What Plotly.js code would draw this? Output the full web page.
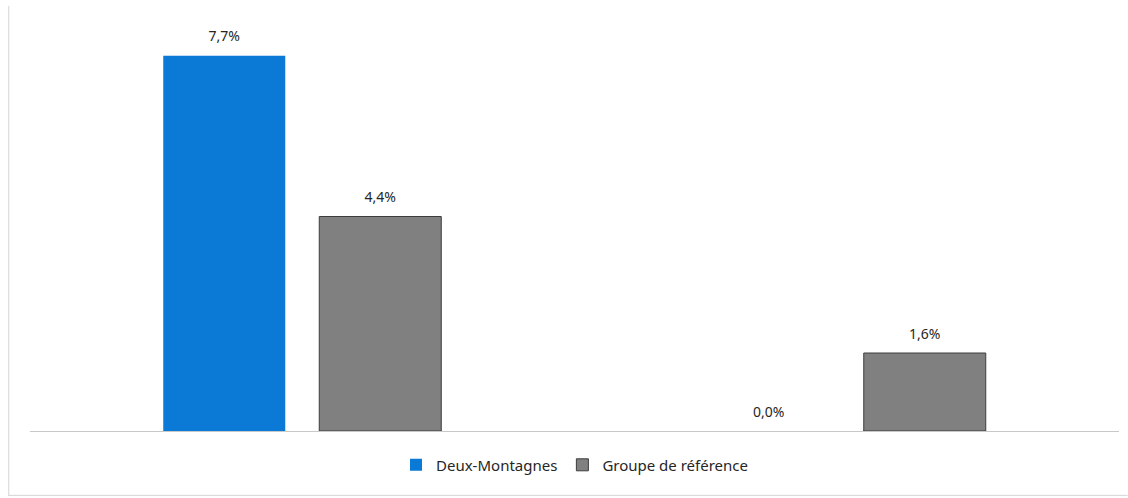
<!DOCTYPE html>
<html>
<head>
<meta charset="utf-8">
<script src="https://cdn.plot.ly/plotly-3.0.1.min.js"></script>
<style>html,body{margin:0;padding:0;background:#fff;}#chart{width:1128px;height:498px;}</style>
</head>
<body>
<div id="chart"></div>
<script>
var categories = ["Catégorie 1", "Catégorie 2"];
var seriesNames = ["Deux-Montagnes", "Groupe de référence"];
var deuxMontagnes = [7.7, 0.0];
var groupeReference = [4.4, 1.6];

var labelFont = {family: "Noto Sans, Open Sans, sans-serif", size: 14, color: "#262626"};

function labelTrace(values, group) {
  return {
    type: "scatter", mode: "markers+text", x: categories, y: values,
    offsetgroup: group, alignmentgroup: "labels",
    marker: {size: 16, opacity: 0, color: "#ffffff"},
    texttemplate: "%{y:.1f}%", textposition: "top center", textfont: labelFont,
    cliponaxis: false, showlegend: false, hoverinfo: "none"
  };
}

var traces = [
  {
    type: "bar", name: seriesNames[0], x: categories, y: deuxMontagnes,
    offsetgroup: "a",
    marker: {color: "#0b79d6", line: {color: "#0b79d6", width: 0}},
    textposition: "none", hoverinfo: "none"
  },
  {
    type: "bar", name: seriesNames[1], x: categories, y: groupeReference,
    offsetgroup: "b",
    marker: {color: "#808080", line: {color: "#3c3c3c", width: 1}},
    textposition: "none", hoverinfo: "none"
  },
  labelTrace(deuxMontagnes, "a"),
  labelTrace(groupeReference, "b")
];

var layout = {
  width: 1128, height: 498,
  margin: {l: 30, r: 9, t: 41, b: 67},
  paper_bgcolor: "#ffffff", plot_bgcolor: "#ffffff",
  separators: ", ",
  barmode: "group", bargap: 0.427, bargroupgap: 0.218,
  scattermode: "group", scattergap: 0.427,
  showlegend: true,
  legend: {orientation: "h", x: 0.5, xanchor: "center", y: -0.045, yanchor: "top",
           font: {family: "Noto Sans, Open Sans, sans-serif", size: 15, color: "#262626"},
           traceorder: "normal"},
  xaxis: {showticklabels: false, ticks: "", showgrid: false, zeroline: false,
          showline: true, linecolor: "#c8c8c8", linewidth: 1, fixedrange: true},
  yaxis: {range: [0, 8], visible: false, showgrid: false, zeroline: false, fixedrange: true},
  shapes: [
    {type: "line", xref: "paper", yref: "paper", x0: -0.0195, x1: -0.0195, y0: -0.167, y1: 1.09,
     line: {color: "#d4d4d4", width: 1}},
    {type: "line", xref: "paper", yref: "paper", x0: -0.0195, x1: 1.008, y0: -0.165, y1: -0.165,
     line: {color: "#d4d4d4", width: 1}}
  ]
};

Plotly.newPlot("chart", traces, layout, {displayModeBar: false, staticPlot: true});
</script>
</body>
</html>
